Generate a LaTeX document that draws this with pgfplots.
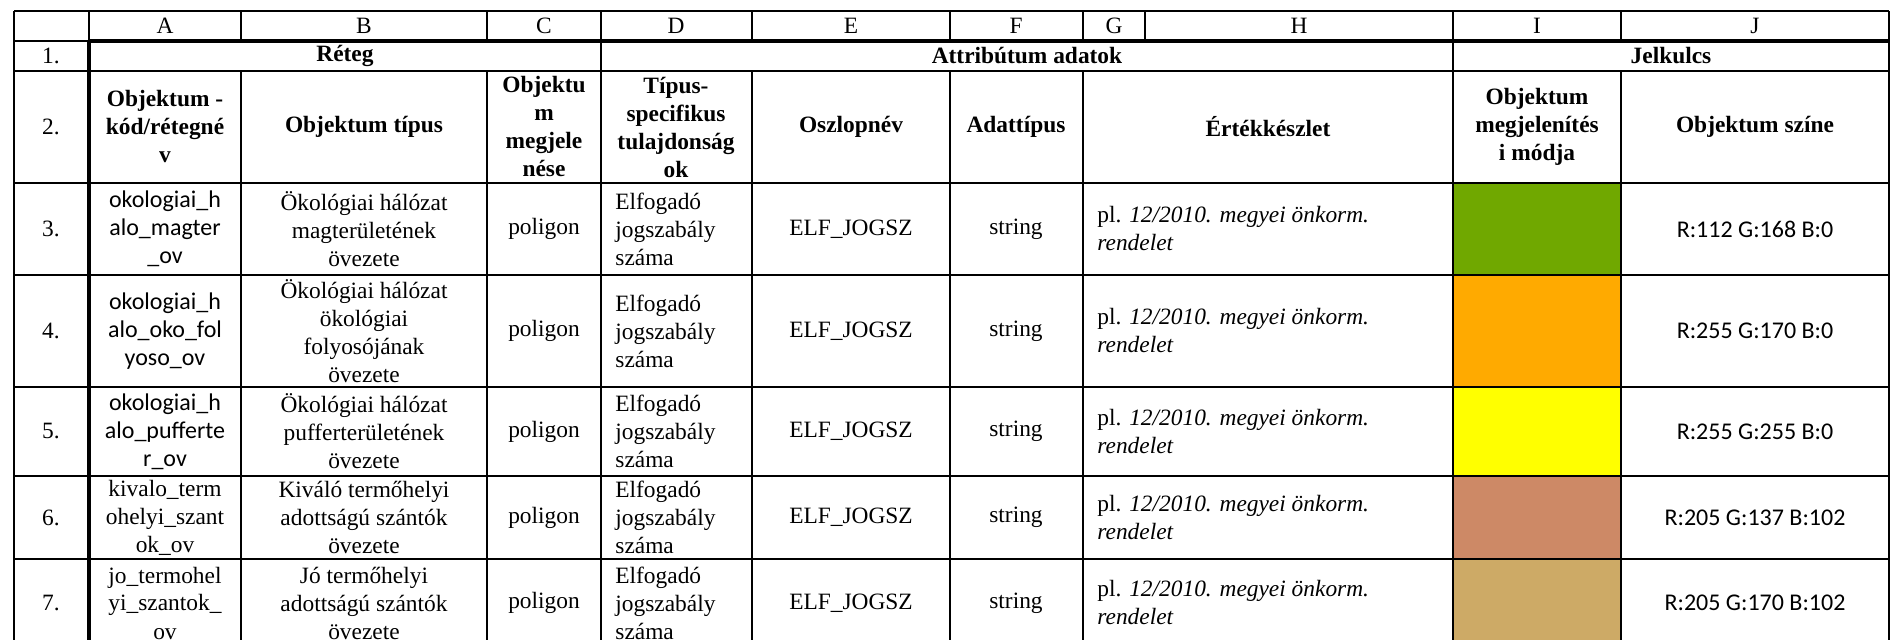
\documentclass[border=0pt]{standalone}
\usepackage{pgfplots}
\pgfplotsset{compat=1.18}
\usepackage{fontspec}
\setmainfont{Liberation Serif}
\newfontfamily\calfont{Carlito}
\definecolor{cA}{RGB}{112,168,0}
\definecolor{cB}{RGB}{255,170,0}
\definecolor{cC}{RGB}{255,255,0}
\definecolor{cD}{RGB}{205,137,102}
\definecolor{cE}{RGB}{205,170,102}
\tikzset{
  tn/.style={font=\fontsize{11.7}{14}\selectfont, align=center, inner sep=0pt},
  hd/.style={font=\fontsize{11.7}{14}\selectfont\bfseries, align=center, inner sep=0pt},
  cb/.style={font=\calfont\fontsize{12}{14}\selectfont, align=center, inner sep=0pt},
  tl/.style={font=\fontsize{11.7}{14}\selectfont, align=left, inner sep=0pt, anchor=west},
}
\newcommand\datarow[1]{%
  \node[tn] at (axis cs:544,#1) {poligon};
  \node[tl] at (axis cs:615,#1) {Elfogadó\\jogszabály\\száma};
  \node[tn] at (axis cs:851,#1) {ELF\_JOGSZ};
  \node[tn] at (axis cs:1016,#1) {string};
  \node[tl] at (axis cs:1097,#1) {pl. \textit{12/2010. megyei önkorm.}\\\textit{rendelet}};
}
\begin{document}
\begin{tikzpicture}
\begin{axis}[name=ax, scale only axis, width=946pt, height=320pt,
  xmin=0, xmax=1892, ymin=0, ymax=640, y dir=reverse, hide axis, clip=false]
% colour cells
\addplot[fill=cA, draw=none] coordinates {(1453,183) (1621,183) (1621,275) (1453,275)};
\addplot[fill=cB, draw=none] coordinates {(1453,275) (1621,275) (1621,387) (1453,387)};
\addplot[fill=cC, draw=none] coordinates {(1453,387) (1621,387) (1621,476) (1453,476)};
\addplot[fill=cD, draw=none] coordinates {(1453,476) (1621,476) (1621,559) (1453,559)};
\addplot[fill=cE, draw=none] coordinates {(1453,559) (1621,559) (1621,660) (1453,660)};
% horizontal lines
\addplot[black, line width=0.9pt] coordinates {(14,11) (1889,11)};
\addplot[black, line width=0.9pt] coordinates {(14,41) (89,41)};
\addplot[black, line width=1.9pt] coordinates {(89,41) (1889,41)};
\addplot[black, line width=0.9pt] coordinates {(14,71) (1889,71)};
\addplot[black, line width=1.3pt] coordinates {(14,183) (1889,183)};
\addplot[black, line width=0.9pt] coordinates {(14,275) (1889,275)};
\addplot[black, line width=0.9pt] coordinates {(14,387) (1889,387)};
\addplot[black, line width=0.9pt] coordinates {(14,476) (1889,476)};
\addplot[black, line width=0.9pt] coordinates {(14,559) (1889,559)};
% vertical lines
\addplot[black, line width=0.9pt] coordinates {(14,11) (14,660)};
\addplot[black, line width=0.9pt] coordinates {(89,11) (89,41)};
\addplot[black, line width=1.9pt] coordinates {(89,41) (89,660)};
\addplot[black, line width=0.9pt] coordinates {(241,11) (241,41)};
\addplot[black, line width=0.9pt] coordinates {(241,71) (241,660)};
\addplot[black, line width=0.9pt] coordinates {(487,11) (487,41)};
\addplot[black, line width=0.9pt] coordinates {(487,71) (487,660)};
\addplot[black, line width=0.9pt] coordinates {(601,11) (601,660)};
\addplot[black, line width=0.9pt] coordinates {(752,11) (752,41)};
\addplot[black, line width=0.9pt] coordinates {(752,71) (752,660)};
\addplot[black, line width=0.9pt] coordinates {(950,11) (950,41)};
\addplot[black, line width=0.9pt] coordinates {(950,71) (950,660)};
\addplot[black, line width=0.9pt] coordinates {(1083,11) (1083,41)};
\addplot[black, line width=0.9pt] coordinates {(1083,71) (1083,660)};
\addplot[black, line width=0.9pt] coordinates {(1145,11) (1145,41)};
\addplot[black, line width=0.9pt] coordinates {(1453,11) (1453,660)};
\addplot[black, line width=0.9pt] coordinates {(1621,11) (1621,41)};
\addplot[black, line width=0.9pt] coordinates {(1621,71) (1621,660)};
\addplot[black, line width=0.9pt] coordinates {(1889,11) (1889,660)};
% letters row
\node[tn] at (axis cs:165,26) {A};
\node[tn] at (axis cs:364,26) {B};
\node[tn] at (axis cs:544,26) {C};
\node[tn] at (axis cs:676,26) {D};
\node[tn] at (axis cs:851,26) {E};
\node[tn] at (axis cs:1016,26) {F};
\node[tn] at (axis cs:1114,26) {G};
\node[tn] at (axis cs:1299,26) {H};
\node[tn] at (axis cs:1537,26) {I};
\node[tn] at (axis cs:1755,26) {J};
% row 1
\node[tn] at (axis cs:51,56) {1.};
\node[hd] at (axis cs:345,56) {Réteg};
\node[hd] at (axis cs:1027,56) {Attribútum adatok};
\node[hd] at (axis cs:1671,56) {Jelkulcs};
% row 2
\node[tn] at (axis cs:51,127) {2.};
\node[hd] at (axis cs:165,127) {Objektum -\\kód/rétegné\\v};
\node[hd] at (axis cs:364,127) {Objektum típus};
\node[hd] at (axis cs:544,127) {Objektu\\m\\megjele\\nése};
\node[hd] at (axis cs:676,127) {Típus-\\specifikus\\tulajdonság\\ok};
\node[hd] at (axis cs:851,127) {Oszlopnév};
\node[hd] at (axis cs:1016,127) {Adattípus};
\node[hd] at (axis cs:1268,127) {Értékkészlet};
\node[hd] at (axis cs:1537,127) {Objektum\\megjelenítés\\i módja};
\node[hd] at (axis cs:1755,127) {Objektum színe};
% data rows
\node[tn] at (axis cs:51,229) {3.};
\node[tn] at (axis cs:51,331) {4.};
\node[tn] at (axis cs:51,431.5) {5.};
\node[tn] at (axis cs:51,517.5) {6.};
\node[tn] at (axis cs:51,603) {7.};
\node[cb] at (axis cs:165,229) {okologiai\_h\\alo\_magter\\\_ov};
\node[cb] at (axis cs:165,331) {okologiai\_h\\alo\_oko\_fol\\yoso\_ov};
\node[cb] at (axis cs:165,431.5) {okologiai\_h\\alo\_pufferte\\r\_ov};
\node[tn] at (axis cs:165,517.5) {kivalo\_term\\ohelyi\_szant\\ok\_ov};
\node[tn] at (axis cs:165,603) {jo\_termohel\\yi\_szantok\_\\ov};
\node[tn] at (axis cs:364,229) {Ökológiai hálózat\\magterületének\\övezete};
\node[tn] at (axis cs:364,331) {Ökológiai hálózat\\ökológiai\\folyosójának\\övezete};
\node[tn] at (axis cs:364,431.5) {Ökológiai hálózat\\pufferterületének\\övezete};
\node[tn] at (axis cs:364,517.5) {Kiváló termőhelyi\\adottságú szántók\\övezete};
\node[tn] at (axis cs:364,603) {Jó termőhelyi\\adottságú szántók\\övezete};
\datarow{229}
\datarow{331}
\datarow{431.5}
\datarow{517.5}
\datarow{603}
\node[cb] at (axis cs:1755,229) {R:112 G:168 B:0};
\node[cb] at (axis cs:1755,331) {R:255 G:170 B:0};
\node[cb] at (axis cs:1755,431.5) {R:255 G:255 B:0};
\node[cb] at (axis cs:1755,517.5) {R:205 G:137 B:102};
\node[cb] at (axis cs:1755,603) {R:205 G:170 B:102};
\end{axis}
\pgfresetboundingbox
\path[use as bounding box] (ax.south west) rectangle (ax.north east);
\end{tikzpicture}
\end{document}
